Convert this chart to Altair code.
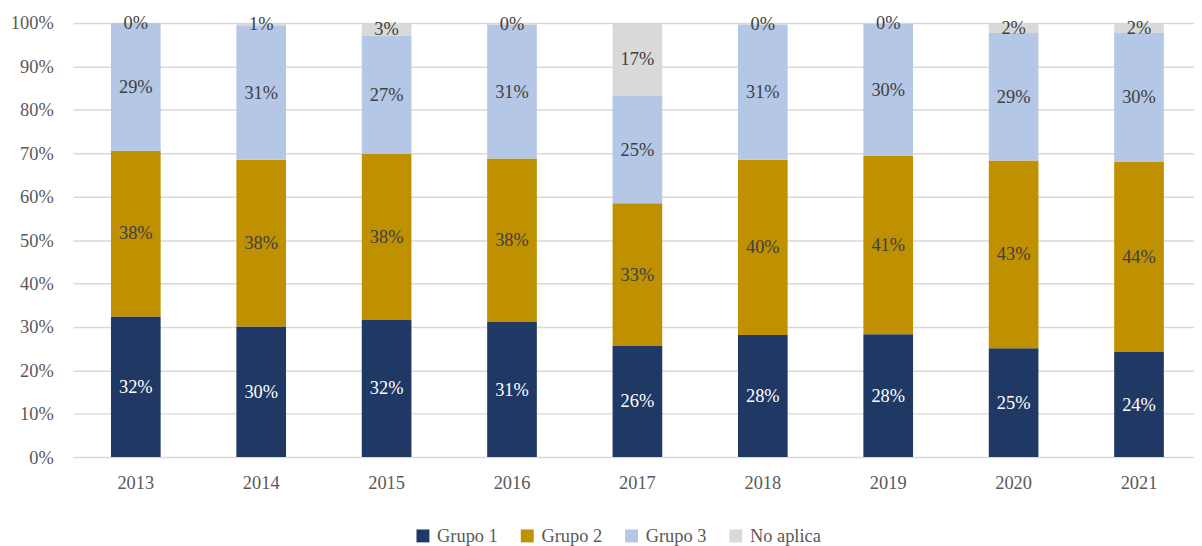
import altair as alt
import pandas as pd

years = ["2013", "2014", "2015", "2016", "2017", "2018", "2019", "2020", "2021"]
groups = ["Grupo 1", "Grupo 2", "Grupo 3", "No aplica"]
colors = ["#203864", "#BF9000", "#B4C7E7", "#D9D9D9"]

grupo1 = [32.4, 30.1, 31.6, 31.1, 25.6, 28.1, 28.3, 25.1, 24.2]
grupo2 = [38.2, 38.4, 38.2, 37.7, 32.9, 40.4, 41.2, 43.2, 43.8]
grupo3 = [29.4, 30.8, 27.3, 30.8, 24.7, 31.1, 30.3, 29.4, 29.7]
no_aplica = [0.0, 0.7, 2.9, 0.4, 16.8, 0.4, 0.2, 2.3, 2.3]

series = [grupo1, grupo2, grupo3, no_aplica]
rows = []
for gi, (g, vals) in enumerate(zip(groups, series)):
    for y, v in zip(years, vals):
        rows.append({"year": y, "group": g, "order": gi, "frac": v / 100.0})
df = pd.DataFrame(rows)

FONT = "Liberation Serif"
FS = 18.5

xscale = alt.Scale(paddingInner=0.604, paddingOuter=0.2714, align=0.557)

base = alt.Chart(df).transform_stack(
    stack="frac", groupby=["year"], as_=["y0", "y1"],
    sort=[alt.SortField("order", order="ascending")]
).transform_calculate(mid="(datum.y0 + datum.y1) / 2")

bars = base.mark_bar().encode(
    x=alt.X("year:N", scale=xscale, sort=years,
            axis=alt.Axis(title=None, labelAngle=0, domain=False, ticks=False, tickSize=0,
                          labelPadding=17, labelFont=FONT, labelFontSize=FS,
                          labelColor="#595959", grid=False)),
    y=alt.Y("y0:Q", scale=alt.Scale(domain=[0, 1]),
            axis=alt.Axis(title=None, format=".0%", values=[i / 10 for i in range(11)],
                          grid=True, gridColor="#D9D9D9", gridWidth=1.5, domain=False,
                          ticks=False, tickSize=0, labelPadding=20, labelFont=FONT,
                          labelFontSize=FS, labelColor="#595959")),
    y2="y1:Q",
    color=alt.Color("group:N", scale=alt.Scale(domain=groups, range=colors),
                    legend=alt.Legend(title=None, orient="none", direction="horizontal",
                                      columns=4, legendX=343, legendY=507, padding=0,
                                      symbolType="square", symbolSize=169,
                                      symbolStrokeWidth=0, columnPadding=20,
                                      labelOffset=5, labelFont=FONT, labelFontSize=FS,
                                      labelColor="#595959")),
    order=alt.Order("order:Q"),
)

labels = base.mark_text(font=FONT, fontSize=FS, baseline="middle", align="center").encode(
    x=alt.X("year:N", scale=xscale, sort=years),
    y=alt.Y("mid:Q", scale=alt.Scale(domain=[0, 1])),
    text=alt.Text("frac:Q", format=".0%"),
    color=alt.condition("datum.group == 'Grupo 1'", alt.value("#FFFFFF"), alt.value("#404040")),
)

chart = alt.layer(bars, labels).properties(
    width=1128.5, height=437,
    autosize=alt.AutoSizeParams(type="none"),
    padding={"left": 65.5, "top": 13.3, "right": 0, "bottom": 88},
).configure_view(stroke=None)

chart.save("out.html", embed_options={"renderer": "svg", "actions": False})
